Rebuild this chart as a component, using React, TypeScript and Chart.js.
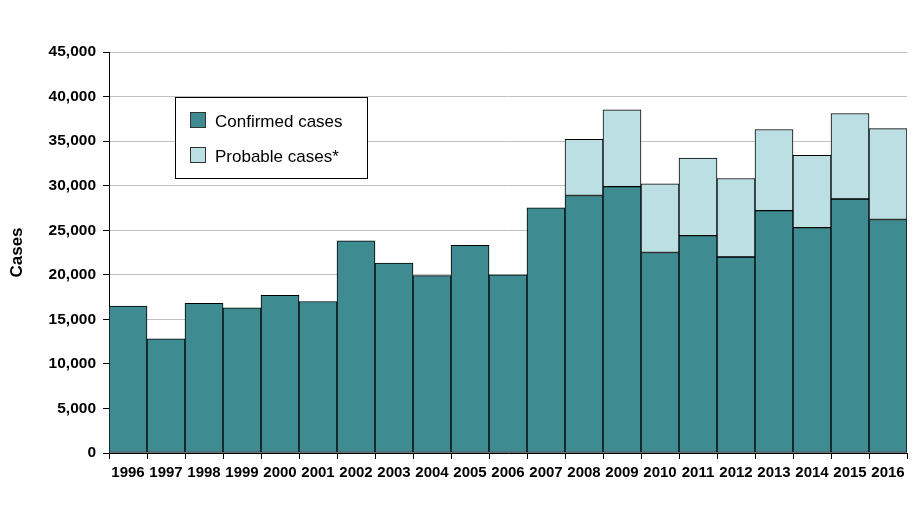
import React, { useEffect, useRef } from "react";
import { Chart, registerables } from "chart.js";

Chart.register(...registerables);

const years = ["1996","1997","1998","1999","2000","2001","2002","2003","2004","2005","2006","2007","2008","2009","2010","2011","2012","2013","2014","2015","2016"];
const confirmed = [16500,12800,16800,16300,17700,17000,23800,21300,19900,23300,20000,27500,28900,29900,22500,24400,22000,27200,25300,28500,26200];
const probable = [null,null,null,null,null,null,null,null,null,null,null,null,6300,8600,7700,8700,8800,9100,8100,9600,10200];
const yTicks = [0,5000,10000,15000,20000,25000,30000,35000,40000,45000];

const CONF = "#3e8b91";
const PROB = "#bbdfe3";
const FONT = "Arial, 'Liberation Sans', sans-serif";

const legendPlugin = {
  id: "boxLegend",
  afterDraw(chart: any) {
    const ctx = chart.ctx;
    ctx.save();
    ctx.fillStyle = "#fff";
    ctx.fillRect(175.5, 97.5, 192, 81);
    ctx.strokeStyle = "#000";
    ctx.lineWidth = 1;
    ctx.strokeRect(175.5, 97.5, 192, 81);
    const items = [
      { label: "Confirmed cases", color: CONF, y: 112 },
      { label: "Probable cases*", color: PROB, y: 147 },
    ];
    ctx.font = "17px " + FONT;
    ctx.textBaseline = "alphabetic";
    ctx.textAlign = "left";
    for (const it of items) {
      ctx.fillStyle = it.color;
      ctx.fillRect(190.5, it.y + 0.5, 15, 15);
      ctx.strokeStyle = "#333";
      ctx.strokeRect(190.5, it.y + 0.5, 15, 15);
      ctx.fillStyle = "#000";
      ctx.fillText(it.label, 215, it.y + 15);
    }
    ctx.restore();
  },
};

export default function App() {
  const ref = useRef<HTMLCanvasElement>(null);
  useEffect(() => {
    if (!ref.current) return;
    const chart = new Chart(ref.current, {
      type: "bar",
      data: {
        labels: years,
        datasets: [
          {
            label: "Confirmed cases",
            data: confirmed,
            backgroundColor: CONF,
            borderColor: "#000",
            borderWidth: 1,
            borderSkipped: false,
            categoryPercentage: 1,
            barPercentage: 1,
          },
          {
            label: "Probable cases*",
            data: probable as any,
            backgroundColor: PROB,
            borderColor: "#000",
            borderWidth: 1,
            borderSkipped: false,
            categoryPercentage: 1,
            barPercentage: 1,
          },
        ],
      },
      options: {
        animation: false,
        responsive: false,
        layout: { padding: { top: 52, right: 16, bottom: 0, left: 0 } },
        plugins: { legend: { display: false }, tooltip: { enabled: false } },
        scales: {
          x: {
            stacked: true,
            grid: { drawOnChartArea: false, tickLength: 6, tickColor: "#000", offset: true },
            border: { color: "#000" },
            ticks: { color: "#000", font: { family: FONT, size: 15, weight: "bold" }, padding: 5, maxRotation: 0, autoSkip: false },
            afterFit(scale: any) { scale.height = 57; },
          },
          y: {
            stacked: true,
            min: 0,
            max: 45000,
            afterBuildTicks(scale: any) { scale.ticks = yTicks.map((v) => ({ value: v })); },
            grid: { color: "#c0c0c0", tickColor: "#000", tickLength: 6 },
            border: { color: "#000" },
            ticks: {
              color: "#000",
              font: { family: FONT, size: 15.5, weight: "bold" },
              padding: 7,
              callback: (v: any) => Number(v).toLocaleString("en-US"),
            },
            title: { display: true, text: "Cases", color: "#000", font: { family: FONT, size: 17, weight: "bold" }, padding: { top: 7, bottom: 0 } },
            afterFit(scale: any) { scale.width = 109; },
          },
        },
      },
      plugins: [legendPlugin],
    });
    return () => chart.destroy();
  }, []);
  return (
    <div style={{ position: "fixed", left: 0, top: 0, width: 923, height: 510, background: "#fff" }}>
      <canvas ref={ref} width={923} height={510} style={{ width: 923, height: 510 }} />
    </div>
  );
}
